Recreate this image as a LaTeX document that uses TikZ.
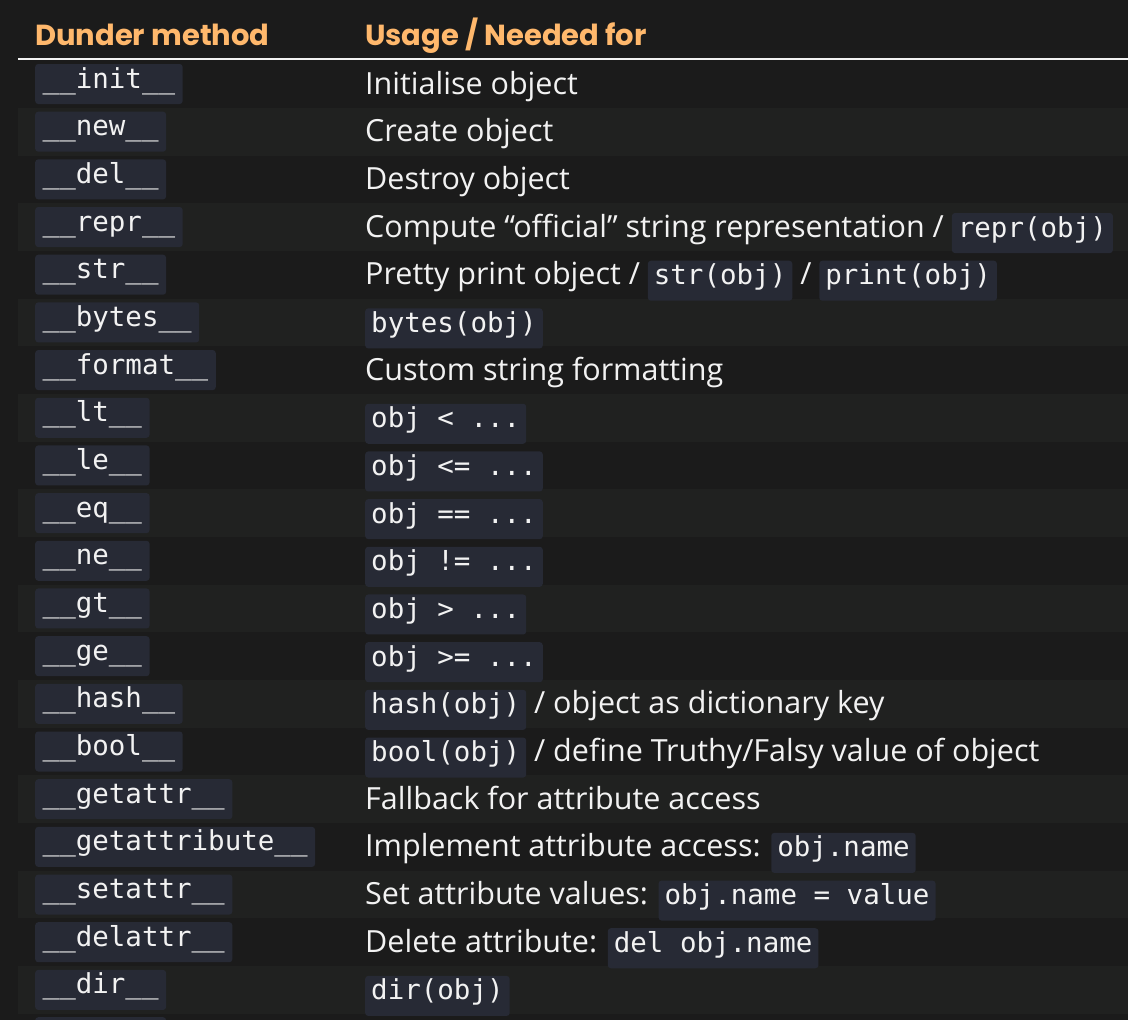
\documentclass[tikz,border=0pt]{standalone}
\usepackage{fontspec}
\setmainfont{Open Sans}
\setmonofont{DejaVu Sans Mono}
\newfontfamily\headfont{Poppins}
\definecolor{bg}{HTML}{1B1B1B}
\definecolor{stripe}{HTML}{202120}
\definecolor{codebg}{HTML}{272A35}
\definecolor{hd}{HTML}{FFB86C}
\definecolor{fg}{HTML}{F2F2F2}
\tikzset{
  codebox/.style={fill=codebg,rounded corners=3pt,inner xsep=7.5pt,inner ysep=7pt,text height=17pt,text depth=9pt,font=\fontsize{27.5}{30}\ttfamily,text=fg},
  desc/.style={anchor=base west,inner sep=0pt,font=\fontsize{30.5}{33}\selectfont,text=fg},
  head/.style={anchor=base west,inner sep=0pt,font=\fontsize{29}{32}\headfont\bfseries,text=hd}
}
\newcommand\cb[1]{\tikz[baseline=(x.base)]\node[codebox,inner xsep=6pt](x){#1};}
\begin{document}
\begin{tikzpicture}[x=1pt,y=-1pt]
\useasboundingbox (0,0) rectangle (1128,1020);
\fill[bg] (0,0) rectangle (1128,1020);
\foreach \i in {2,4,...,20}{\fill[stripe] (18,{84+(\i-1)*47.68-23.84}) rectangle (1128,{84+(\i-1)*47.68+23.84});}
\node[head] (h1) at (35,45) {Dunder method};
\node[head] (h2) at (365,45) {Usage / Needed for};
\draw[fg,line width=2pt] (18,59) -- (1128,59);
\foreach \i/\m/\d in {
 1/\_\_init\_\_/Initialise object,
 2/\_\_new\_\_/Create object,
 3/\_\_del\_\_/Destroy object,
 4/\_\_repr\_\_/{Compute “official” string representation / \cb{repr(obj)}},
 5/\_\_str\_\_/{Pretty print object / \cb{str(obj)} / \cb{print(obj)}},
 6/\_\_bytes\_\_/{\cb{bytes(obj)}},
 7/\_\_format\_\_/Custom string formatting,
 8/\_\_lt\_\_/{\cb{obj < ...}},
 9/\_\_le\_\_/{\cb{obj <= ...}},
 10/\_\_eq\_\_/{\cb{obj == ...}},
 11/\_\_ne\_\_/{\cb{obj != ...}},
 12/\_\_gt\_\_/{\cb{obj > ...}},
 13/\_\_ge\_\_/{\cb{obj >= ...}},
 14/\_\_hash\_\_/{\cb{hash(obj)} / object as dictionary key},
 15/\_\_bool\_\_/{\cb{bool(obj)} / define Truthy/Falsy value of object},
 16/\_\_getattr\_\_/Fallback for attribute access,
 17/\_\_getattribute\_\_/{Implement attribute access: \cb{obj.name}},
 18/\_\_setattr\_\_/{Set attribute values: \cb{obj.name = value}},
 19/\_\_delattr\_\_/{Delete attribute: \cb{del obj.name}},
 20/\_\_dir\_\_/{\cb{dir(obj)}}}{
  \node[codebox,anchor=west] (m\i) at (35,{84+(\i-1)*47.68}) {\m};
  \node[desc] (d\i) at (365,{84+(\i-1)*47.68+10}) {\d};
}
\node[codebox,anchor=north west] (m21) at (35,1017) {\phantom{\_\_doc\_\_}};
\end{tikzpicture}
\end{document}
